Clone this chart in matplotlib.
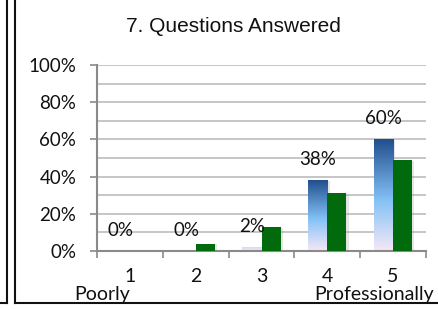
import matplotlib
matplotlib.use("Agg")
import matplotlib.pyplot as plt
import numpy as np
from matplotlib.colors import LinearSegmentedColormap
from matplotlib.lines import Line2D

categories = ["1", "2", "3", "4", "5"]
blue_values = [0.0, 0.0, 0.02, 0.38, 0.60]
green_values = [0.0, 0.04, 0.13, 0.31, 0.49]
blue_labels = ["0%", "0%", "2%", "38%", "60%"]
ytick_labels = ["0%", "20%", "40%", "60%", "80%", "100%"]
title = "7. Questions Answered"
low_label = "Poorly"
high_label = "Professionally"

W, H = 439, 310
fig = plt.figure(figsize=(W / 100, H / 100), dpi=100)
fig.patch.set_facecolor("white")

ax = fig.add_axes([97 / W, 1 - 251 / H, (426 - 97) / W, (251 - 65) / H])
ax.set_xlim(0.5, 5.5)
ax.set_ylim(0, 1.0)
ax.set_facecolor("white")

x = np.arange(1, len(categories) + 1)
bw = 0.29

# grid
for yv in np.arange(0.1, 1.01, 0.1):
    ax.axhline(yv, color="#c2c2c2", lw=1.3, zorder=0)

cmap = LinearSegmentedColormap.from_list(
    "bluegrad", [(0.0, "#f6e8f6"), (0.45, "#84c2f6"), (1.0, "#214f8e")])

for xi, bv, gv in zip(x, blue_values, green_values):
    # shadows
    for v, x0 in ((bv, xi - bw), (gv, xi)):
        if v > 0:
            ax.bar(x0 + 0.035, v - 0.004, width=bw, align="edge",
                   color="#9a9a9a", alpha=0.25, lw=0, zorder=1)
    if bv > 0:
        gtop = 1.0 if bv >= 0.1 else 0.15
        ax.imshow(np.linspace(0, gtop, 256).reshape(-1, 1),
                  cmap=cmap, vmin=0, vmax=1, origin="lower", aspect="auto",
                  extent=(xi - bw, xi, 0, bv), zorder=2, interpolation="bilinear")
    ax.bar(xi, gv, width=bw, align="edge", color="#006a0c", lw=0, zorder=3)

for xi, bv, lab in zip(x, blue_values, blue_labels):
    ax.annotate(lab, (xi - bw / 2, bv), xytext=(0, 21), textcoords="offset pixels",
                ha="center", va="center", fontsize=13.5, family="Lato",
                color="#111111", zorder=5)

ax.set_xlim(0.5, 5.5)
ax.set_ylim(0, 1.0)

for s in ("top", "right"):
    ax.spines[s].set_visible(False)
for s in ("left", "bottom"):
    ax.spines[s].set_color("#8a8a8a")
    ax.spines[s].set_linewidth(1.5)

ax.set_yticks(np.linspace(0, 1, 6))
ax.set_yticklabels(ytick_labels, family="Lato", fontsize=13.5, color="#111111")
ax.tick_params(axis="y", length=5, width=1.2, color="#8a8a8a", pad=10)

ax.set_xticks(x)
ax.set_xticklabels(categories, family="Lato", fontsize=14, color="#111111")
ax.set_xticks(np.arange(0.5, 5.6, 1.0), minor=True)
ax.tick_params(axis="x", which="major", length=0, pad=12)
ax.tick_params(axis="x", which="minor", length=5, width=1.2, color="#8a8a8a")

ax.text(1, -0.262, low_label, transform=ax.get_xaxis_transform(), ha="right",
        va="baseline", family="Lato", fontsize=14, color="#111111")
ax.text(5 - 0.29, -0.262, high_label, transform=ax.get_xaxis_transform(), ha="center",
        va="baseline", family="Lato", fontsize=14, color="#111111")

fig.text(233 / W, 1 - 26 / H, title, ha="center", va="center",
         family="Liberation Sans", fontsize=15, color="#111111")

# frame lines
def px_line(xs, ys):
    fig.add_artist(Line2D([v / W for v in xs], [1 - v / H for v in ys],
                          transform=fig.transFigure, color="#111111", lw=1.5))

px_line([7.5, 7.5], [0, 303])
px_line([0, 7.5], [303, 303])
px_line([15, 15], [0, 303])
px_line([15, 437], [303, 303])

fig.savefig("out.png", dpi=100)
